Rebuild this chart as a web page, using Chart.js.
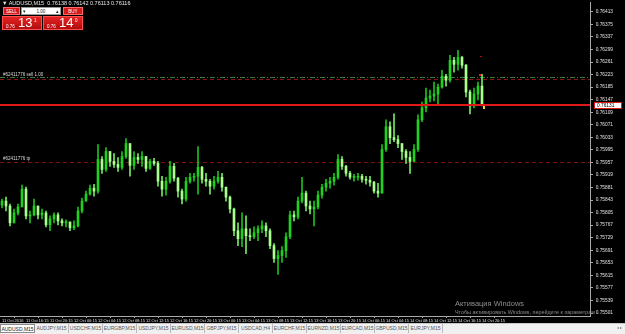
<!DOCTYPE html>
<html>
<head>
<meta charset="utf-8">
<script src="https://cdn.jsdelivr.net/npm/chart.js@4.4.0/dist/chart.umd.min.js"></script>
<style>
  html, body { margin: 0; padding: 0; background: #000; width: 625px; height: 334px; overflow: hidden; font-family: "Liberation Sans", Arial, sans-serif; }
  #wrap { position: relative; width: 625px; height: 323px; }
  #chart { display: block; }
  #info { position: absolute; left: 2px; top: 0; color: #e8e8e8; font-size: 5.5px; line-height: 6px; white-space: nowrap; }
  .btn { position: absolute; top: 7px; height: 8px; background: #d41c1c; color: #fff; font-size: 4.5px; line-height: 7px; text-align: center; border: 1px solid #ff6a6a; box-sizing: border-box; }
  #lot { position: absolute; left: 21px; top: 7px; width: 40px; height: 8px; background: #fff; color: #222; font-size: 4.5px; line-height: 7px; text-align: center; border: 1px solid #999; box-sizing: border-box; }
  #lot .l { position: absolute; left: 1px; } #lot .r { position: absolute; right: 1px; }
  .px { position: absolute; top: 16px; width: 40px; height: 14px; background: linear-gradient(#e42222, #b30d0d); color: #fff; box-sizing: border-box; border: 1px solid #ff5050; }
  .px small { position: absolute; left: 3px; top: 7px; font-size: 4.5px; }
  .px b { position: absolute; left: 15px; top: -1px; font-size: 13px; font-weight: normal; line-height: 14px; }
  .px sup { position: absolute; left: 31px; top: 1px; font-size: 4.5px; }
  #act1 { position: absolute; left: 455px; top: 299px; color: #8c8c8c; font-size: 7.5px; white-space: nowrap; }
  #act2 { position: absolute; left: 455px; top: 309px; color: #8c8c8c; font-size: 5.4px; white-space: nowrap; }
  #tabs { position: absolute; left: 0; top: 323px; width: 625px; height: 11px; background: #f0f0f0; border-top: 1px solid #c8c8c8; box-sizing: border-box; white-space: nowrap; font-size: 5px; color: #555; }
  #tabs span { display: inline-block; width: 33px; height: 9px; line-height: 9px; text-align: center; border-right: 1px solid #b8b8b8; vertical-align: top; }
  #tabs span.act { width: 35px; background: #fff; border: 1px solid #8a8a8a; color: #222; box-sizing: border-box; }
  #arr { position: absolute; right: 3px; top: 1px; font-size: 4px; color: #777; }
</style>
</head>
<body>
<div id="wrap">
  <canvas id="chart" width="625" height="323"></canvas>
  <div id="info">▼ AUDUSD,M15&nbsp; 0.76138 0.76142 0.76113 0.76116</div>
  <div class="btn" style="left:3px;width:17px">SELL</div>
  <div id="lot"><span class="l">▾</span>1.00<span class="r">▴</span></div>
  <div class="btn" style="left:63px;width:20px">BUY</div>
  <div class="px" style="left:2px"><small>0.76</small><b>13</b><sup>1</sup></div>
  <div class="px" style="left:43px"><small>0.76</small><b>14</b><sup>0</sup></div>
  <div id="act1">Активация Windows</div>
  <div id="act2">Чтобы активировать Windows, перейдите к параметрам</div>
</div>
<div id="tabs"><span class="act">AUDUSD,M15</span><span>AUDJPY,M15</span><span>USDCHF,M15</span><span>EURGBP,M15</span><span>USDJPY,M15</span><span>EURUSD,M15</span><span>GBPJPY,M15</span><span>USDCAD,H4</span><span>EURCHF,M15</span><span>EURNZD,M15</span><span>EURCAD,M15</span><span>GBPUSD,M15</span><span>EURJPY,M15</span><div id="arr">◂ ▸</div></div>
<script>
// AUDUSD M15, 11-14 Oct 2016 (each candle here ~ 40 min)
const timeLabels = ['11 Oct 2016', '11 Oct 16:15', '11 Oct 20:15', '12 Oct 00:15', '12 Oct 04:15', '12 Oct 08:15',
  '12 Oct 12:15', '12 Oct 16:15', '12 Oct 20:15', '13 Oct 00:15', '13 Oct 04:15', '13 Oct 08:15', '13 Oct 12:15',
  '13 Oct 16:15', '13 Oct 20:15', '14 Oct 00:15', '14 Oct 04:15', '14 Oct 08:15', '14 Oct 12:15', '14 Oct 16:15', '14 Oct 20:15'];
const priceTicks = [0.75501, 0.75539, 0.75577, 0.75615, 0.75653, 0.75691, 0.75729, 0.75767, 0.75805, 0.75843,
  0.75881, 0.75919, 0.75957, 0.75995, 0.76033, 0.76071, 0.76109, 0.76147, 0.76185, 0.76223, 0.76261, 0.76299,
  0.76337, 0.76375, 0.76413];
const priceMin = 0.75492, priceMax = 0.7644;

const firstOpen = 0.75828;
const highs = [
  0.75846, 0.75852, 0.75831, 0.75816, 0.75831, 0.75888, 0.75882, 0.75810, 0.75846, 0.75825,
  0.75816, 0.75810, 0.75795, 0.75804, 0.75804, 0.75786, 0.75783, 0.75774, 0.75780, 0.75822,
  0.75849, 0.75870, 0.75888, 0.75891, 0.76011, 0.75975, 0.76002, 0.75990, 0.75984, 0.75972,
  0.75990, 0.76029, 0.76014, 0.75990, 0.75984, 0.75990, 0.75975, 0.75966, 0.75969, 0.75960,
  0.75915, 0.75912, 0.75960, 0.75954, 0.75912, 0.75876, 0.75912, 0.75924, 0.75924, 0.76005,
  0.75945, 0.75924, 0.75906, 0.75915, 0.75930, 0.75924, 0.75882, 0.75855, 0.75819, 0.75774,
  0.75804, 0.75795, 0.75756, 0.75762, 0.75765, 0.75780, 0.75774, 0.75756, 0.75711, 0.75690,
  0.75702, 0.75744, 0.75810, 0.75810, 0.75852, 0.75912, 0.75870, 0.75840, 0.75840, 0.75870,
  0.75891, 0.75906, 0.75912, 0.75924, 0.75981, 0.75975, 0.75948, 0.75930, 0.75921, 0.75924,
  0.75921, 0.75915, 0.75915, 0.75900, 0.75894, 0.76011, 0.76086, 0.76080, 0.76104, 0.76038,
  0.76014, 0.75996, 0.75990, 0.76011, 0.76101, 0.76140, 0.76182, 0.76176, 0.76200, 0.76194,
  0.76236, 0.76224, 0.76281, 0.76275, 0.76296, 0.76278, 0.76254, 0.76176, 0.76182, 0.76200,
  0.76224];
const lows = [
  0.75819, 0.75810, 0.75765, 0.75774, 0.75798, 0.75825, 0.75786, 0.75774, 0.75795, 0.75786,
  0.75786, 0.75762, 0.75750, 0.75774, 0.75768, 0.75765, 0.75762, 0.75750, 0.75753, 0.75762,
  0.75804, 0.75840, 0.75858, 0.75855, 0.75864, 0.75924, 0.75930, 0.75945, 0.75942, 0.75930,
  0.75936, 0.75969, 0.75915, 0.75936, 0.75954, 0.75945, 0.75930, 0.75936, 0.75948, 0.75885,
  0.75855, 0.75858, 0.75894, 0.75900, 0.75852, 0.75831, 0.75840, 0.75894, 0.75900, 0.75861,
  0.75894, 0.75885, 0.75861, 0.75876, 0.75894, 0.75870, 0.75840, 0.75804, 0.75735, 0.75705,
  0.75702, 0.75681, 0.75720, 0.75726, 0.75720, 0.75744, 0.75732, 0.75696, 0.75654, 0.75618,
  0.75654, 0.75669, 0.75726, 0.75780, 0.75786, 0.75834, 0.75810, 0.75801, 0.75765, 0.75816,
  0.75849, 0.75870, 0.75879, 0.75888, 0.75906, 0.75936, 0.75915, 0.75906, 0.75900, 0.75903,
  0.75897, 0.75891, 0.75885, 0.75864, 0.75852, 0.75864, 0.75990, 0.76014, 0.76020, 0.76002,
  0.75966, 0.75954, 0.75924, 0.75960, 0.75990, 0.76080, 0.76110, 0.76140, 0.76143, 0.76134,
  0.76182, 0.76188, 0.76200, 0.76230, 0.76236, 0.76242, 0.76155, 0.76104, 0.76122, 0.76146,
  0.76128];
const closes = [
  0.75840, 0.75825, 0.75774, 0.75804, 0.75822, 0.75876, 0.75795, 0.75798, 0.75825, 0.75798,
  0.75804, 0.75768, 0.75786, 0.75798, 0.75780, 0.75774, 0.75777, 0.75759, 0.75765, 0.75810,
  0.75840, 0.75861, 0.75879, 0.75870, 0.75966, 0.75936, 0.75990, 0.75960, 0.75951, 0.75942,
  0.75975, 0.76014, 0.75948, 0.75972, 0.75966, 0.75975, 0.75939, 0.75960, 0.75954, 0.75900,
  0.75876, 0.75900, 0.75945, 0.75909, 0.75870, 0.75846, 0.75900, 0.75912, 0.75915, 0.75942,
  0.75906, 0.75900, 0.75885, 0.75900, 0.75912, 0.75882, 0.75852, 0.75816, 0.75750, 0.75726,
  0.75756, 0.75735, 0.75732, 0.75744, 0.75756, 0.75765, 0.75750, 0.75705, 0.75666, 0.75675,
  0.75690, 0.75732, 0.75798, 0.75792, 0.75840, 0.75864, 0.75825, 0.75816, 0.75822, 0.75858,
  0.75882, 0.75894, 0.75900, 0.75912, 0.75966, 0.75945, 0.75924, 0.75912, 0.75912, 0.75915,
  0.75906, 0.75903, 0.75897, 0.75870, 0.75864, 0.75996, 0.76065, 0.76032, 0.76026, 0.76014,
  0.75990, 0.75972, 0.75960, 0.75996, 0.76086, 0.76122, 0.76152, 0.76158, 0.76164, 0.76185,
  0.76218, 0.76206, 0.76266, 0.76254, 0.76275, 0.76251, 0.76170, 0.76128, 0.76164, 0.76188,
  0.76131];

// order #62411776: sell 1.00 with sl / tp, and the red horizontal line at the bid
const orderOpen = 0.76215;
const orderSL = 0.76210;
const orderTP = 0.75959;
const bidLine = 0.76131;

const opens = closes.map((c, i) => (i === 0 ? firstOpen : closes[i - 1]));
const isUp = closes.map((c, i) => c >= opens[i]);
const idx = closes.map((c, i) => i);

const upBody = '#1ed21e', downBody = '#a8ff90';
const upWick = '#1cc01c', downWick = '#74e862';
const axisCol = '#a8a8a8', textCol = '#e0e0e0';
const tinyFont = { family: 'Liberation Sans', size: 4.8 };

function hline(ctx, left, right, py, color, dash, width) {
  ctx.save();
  ctx.strokeStyle = color;
  ctx.lineWidth = width || 1;
  ctx.setLineDash(dash || []);
  const yy = width === 2 ? Math.round(py) : Math.round(py) + 0.5;
  ctx.beginPath();
  ctx.moveTo(left, yy);
  ctx.lineTo(right, yy);
  ctx.stroke();
  ctx.restore();
}

const overlay = {
  id: 'overlay',
  beforeDatasetsDraw(chart) {
    const { ctx, chartArea: a, scales: { y } } = chart;
    hline(ctx, a.left, a.right, y.getPixelForValue(orderOpen), '#3a7a3a', [5, 2, 1, 2]);
    hline(ctx, a.left, a.right, y.getPixelForValue(orderSL), '#8a1414', [4, 3]);
    hline(ctx, a.left, a.right, y.getPixelForValue(orderTP), '#7a1212', [4, 3]);
    ctx.save();
    ctx.fillStyle = '#d8d8d8';
    ctx.font = '4.5px "Liberation Sans"';
    ctx.textBaseline = 'bottom';
    ctx.fillText('#62411776 sell 1.00', a.left + 3, y.getPixelForValue(orderOpen) - 0.5);
    ctx.fillText('#62411776 tp', a.left + 3, y.getPixelForValue(orderTP) - 0.5);
    ctx.restore();
  },
  afterDraw(chart) {
    const { ctx, chartArea: a, scales: { x, y } } = chart;
    const py = y.getPixelForValue(bidLine);
    hline(ctx, a.left, a.right, py, '#e01818', [], 2);
    // bid price label on the axis
    ctx.save();
    ctx.fillStyle = '#ffffff';
    ctx.strokeStyle = '#e01818';
    ctx.fillRect(a.right + 4, Math.round(py) - 3, 28, 7);
    ctx.strokeRect(a.right + 4.5, Math.round(py) - 2.5, 27, 6);
    ctx.fillStyle = '#000';
    ctx.font = '4.8px "Liberation Sans"';
    ctx.textBaseline = 'middle';
    ctx.fillText(bidLine.toFixed(5), a.right + 7, Math.round(py) + 0.5);
    // small order markers near the last bar
    const lx = x.getPixelForValue(idx.length - 1);
    ctx.fillStyle = '#b01010';
    ctx.fillRect(Math.round(lx) - 2, Math.round(y.getPixelForValue(0.76278)), 2, 1);
    ctx.fillStyle = '#e02020';
    ctx.fillRect(Math.round(lx) - 3, Math.round(y.getPixelForValue(orderOpen + 0.00009)), 2, 2);
    ctx.fillStyle = '#e8d040';
    ctx.fillRect(Math.round(lx) + 1, Math.round(py) + 1, 2, 3);
    ctx.restore();
  }
};

new Chart(document.getElementById('chart'), {
  type: 'bar',
  data: {
    datasets: [
      {
        label: 'wicks',
        data: idx.map((i) => ({ x: i, y: [lows[i], highs[i]] })),
        backgroundColor: idx.map((i) => (isUp[i] ? upWick : downWick)),
        barThickness: 1,
        grouped: false,
        order: 2
      },
      {
        label: 'bodies',
        data: idx.map((i) => ({ x: i, y: [opens[i], closes[i]] })),
        backgroundColor: idx.map((i) => (isUp[i] ? upBody : downBody)),
        barThickness: 2,
        minBarLength: 1,
        grouped: false,
        order: 1
      }
    ]
  },
  options: {
    responsive: false,
    animation: false,
    devicePixelRatio: 1,
    events: [],
    layout: { padding: 0, autoPadding: false },
    plugins: { legend: { display: false }, tooltip: { enabled: false } },
    scales: {
      x: {
        type: 'linear',
        min: -0.5,
        max: 147,
        offset: false,
        afterBuildTicks: (s) => { s.ticks = timeLabels.map((t, k) => ({ value: k * 6 })); },
        afterFit: (s) => { s.height = 7; },
        ticks: {
          autoSkip: false, maxRotation: 0, align: 'start', padding: 0,
          color: textCol, font: { family: 'Liberation Sans', size: 4 },
          callback: (v, i) => timeLabels[i]
        },
        grid: { drawOnChartArea: false, color: axisCol, tickLength: 2 },
        border: { color: axisCol }
      },
      y: {
        position: 'right',
        min: priceMin,
        max: priceMax,
        // unlabelled end ticks keep the plot area flush with the canvas edges
        afterBuildTicks: (s) => {
          s.ticks = [{ value: priceMin }].concat(priceTicks.map((v) => ({ value: v })), [{ value: priceMax }]);
        },
        afterFit: (s) => { s.width = 35; },
        ticks: {
          color: textCol, font: tinyFont, padding: 0,
          callback: (v) => (priceTicks.includes(v) ? '  ' + v.toFixed(5) : null)
        },
        grid: { drawOnChartArea: false, tickLength: 3, color: axisCol },
        border: { color: axisCol }
      }
    }
  },
  plugins: [overlay]
});
</script>
</body>
</html>
